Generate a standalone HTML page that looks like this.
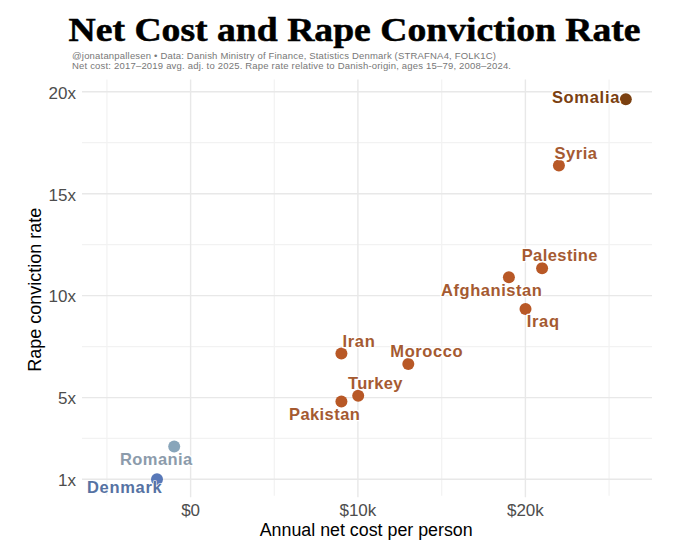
<!DOCTYPE html>
<html><head><meta charset="utf-8">
<style>
html,body{margin:0;padding:0;background:#fff;}
svg{display:block;}
text{font-family:"Liberation Sans",sans-serif;}
.t{font-family:"Liberation Serif",serif;font-weight:bold;font-size:33px;fill:#000;stroke:#000;stroke-width:0.5;}
.sub{font-size:9.5px;fill:#777;}
.tick{font-size:17px;fill:#4d4d4d;}
.axt{font-size:18px;fill:#000;}
.lab{font-size:16.5px;font-weight:bold;stroke:#fff;stroke-width:2.6;stroke-linejoin:round;paint-order:stroke fill;}
.maj{stroke:#e8e8e8;stroke-width:1.4;}
.min{stroke:#f2f2f2;stroke-width:1.2;}
</style></head>
<body>
<svg width="680" height="544" viewBox="0 0 680 544">
<rect width="680" height="544" fill="#fff"/>
<g class="min">
<line x1="82" y1="142.7" x2="652" y2="142.7"/>
<line x1="82" y1="244.7" x2="652" y2="244.7"/>
<line x1="82" y1="346.6" x2="652" y2="346.6"/>
<line x1="82" y1="438.4" x2="652" y2="438.4"/>
<line x1="106.9" y1="79.5" x2="106.9" y2="495.8"/>
<line x1="274.3" y1="79.5" x2="274.3" y2="495.8"/>
<line x1="441.7" y1="79.5" x2="441.7" y2="495.8"/>
<line x1="609.1" y1="79.5" x2="609.1" y2="495.8"/>
</g>
<g class="maj">
<line x1="82" y1="91.8" x2="652" y2="91.8"/>
<line x1="82" y1="193.8" x2="652" y2="193.8"/>
<line x1="82" y1="295.6" x2="652" y2="295.6"/>
<line x1="82" y1="397.6" x2="652" y2="397.6"/>
<line x1="82" y1="479.2" x2="652" y2="479.2"/>
<line x1="190.6" y1="79.5" x2="190.6" y2="497.3"/>
<line x1="357.9" y1="79.5" x2="357.9" y2="497.3"/>
<line x1="525.4" y1="79.5" x2="525.4" y2="497.3"/>
</g>
<text class="t" x="68.6" y="40.9" textLength="572" lengthAdjust="spacingAndGlyphs">Net Cost and Rape Conviction Rate</text>
<text class="sub" x="72" y="58.6" textLength="424" lengthAdjust="spacing">@jonatanpallesen • Data: Danish Ministry of Finance, Statistics Denmark (STRAFNA4, FOLK1C)</text>
<text class="sub" x="72" y="68.6" textLength="439" lengthAdjust="spacing">Net cost: 2017–2019 avg. adj. to 2025. Rape rate relative to Danish-origin, ages 15–79, 2008–2024.</text>
<g class="tick" text-anchor="end">
<text x="76" y="98.5">20x</text>
<text x="76" y="200.5">15x</text>
<text x="76" y="302.3">10x</text>
<text x="76" y="404.3">5x</text>
<text x="76" y="485.9">1x</text>
</g>
<g class="tick" text-anchor="middle">
<text x="190.6" y="516">$0</text>
<text x="357.9" y="516">$10k</text>
<text x="525.4" y="516">$20k</text>
</g>
<text class="axt" x="366.2" y="536.4" text-anchor="middle" textLength="213" lengthAdjust="spacingAndGlyphs">Annual net cost per person</text>
<text class="axt" transform="translate(41,289.8) rotate(-90)" text-anchor="middle">Rape conviction rate</text>

<g>
<circle cx="625.8" cy="99.3" r="6" fill="#7b4010"/>
<circle cx="558.9" cy="165.5" r="6" fill="#b85826"/>
<circle cx="542.1" cy="268.3" r="6" fill="#b85826"/>
<circle cx="508.9" cy="277.3" r="6" fill="#b85826"/>
<circle cx="525.5" cy="308.9" r="6" fill="#b85826"/>
<circle cx="408.3" cy="364" r="6" fill="#b85826"/>
<circle cx="341.4" cy="353.6" r="6" fill="#b85826"/>
<circle cx="358.2" cy="395.7" r="6" fill="#b85826"/>
<circle cx="341.4" cy="401.6" r="6" fill="#b85826"/>
<circle cx="174.2" cy="446.6" r="6" fill="#88a5ba"/>
<circle cx="157" cy="479.3" r="6" fill="#5878b8"/>
</g>
<g class="lab">
<text x="551.9" y="102.5" fill="#7b4010" letter-spacing="0.7">Somalia</text>
<text x="554.6" y="158.7" fill="#a55a31" letter-spacing="0.5">Syria</text>
<text x="521.7" y="261.2" fill="#a55a31" letter-spacing="0.42">Palestine</text>
<text x="441" y="295.9" fill="#a55a31" letter-spacing="0.56">Afghanistan</text>
<text x="526.8" y="327" fill="#a55a31" letter-spacing="0.65">Iraq</text>
<text x="390.3" y="356.8" fill="#a55a31" letter-spacing="0.6">Morocco</text>
<text x="342.5" y="346.9" fill="#a55a31" letter-spacing="0.65">Iran</text>
<text x="348" y="389" fill="#a55a31" letter-spacing="0.32">Turkey</text>
<text x="289" y="420.3" fill="#a55a31" letter-spacing="0.42">Pakistan</text>
<text x="119.9" y="465.4" fill="#8c9bab" letter-spacing="0.45">Romania</text>
<text x="86.9" y="492.9" fill="#5672a3" letter-spacing="0.7" stroke-width="1.2" style="stroke-width:1.2px">Denmark</text>
</g>
</svg>
</body></html>
